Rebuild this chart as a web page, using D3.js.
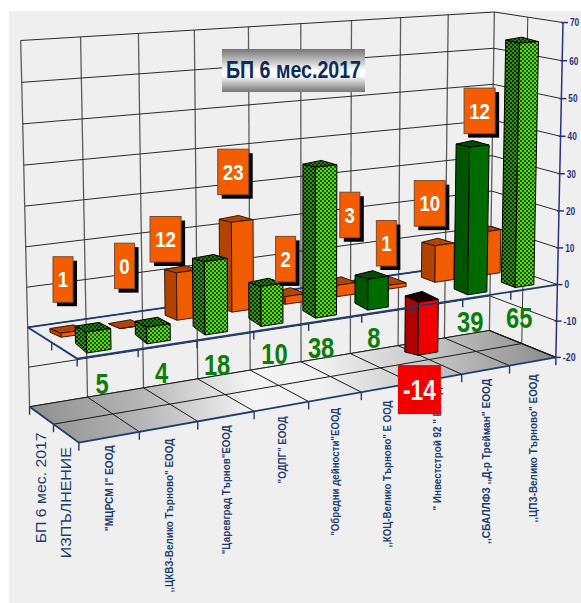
<!DOCTYPE html>
<html><head><meta charset="utf-8">
<script src="https://cdn.jsdelivr.net/npm/d3@7/dist/d3.min.js"></script>
<style>html,body{margin:0;padding:0;background:#fff}svg{display:block}text{font-family:"Liberation Sans",Arial,sans-serif}</style>
</head><body><div id="c"></div>
<script>
const categories=['"МЦРСМ I" ЕООД',',,ЦКВЗ-Велико Търново" ЕООД','"Царевград Търнов"ЕООД','"ОДПГ" ЕООД','"Обредни дейности"ЕООД',',,КОЦ-Велико Търново" Е ООД','" Инвестстрой 92 " ЕООД',',,СБАЛЛФЗ ,,Д-р Трейман" ЕООД',',,ЦПЗ-Велико Търново" ЕООД'];
const planValues=[1,0,12,23,2,3,1,10,12];
const actualValues=[5,4,18,10,38,8,-14,39,65];
const actualFill=['check','check','check','check','check','solid','red','solid','check'];
const seriesNames=['БП 6 мес. 2017','ИЗПЪЛНЕНИЕ'];
const valueTicks=[-20,-10,0,10,20,30,40,50,60,70];
const title='БП 6 мес.2017';

// layout only
const W=581,H=603;
const catLabelLength=[86,154,129,67,128,147,123,165,148];
const catLabelGap=[8,12,9,10,11,13,9,9,13];
const planLabelOffset=[[-10,-52],[-7,-61],[-22,-32],[-9,-49],[-10,-36],[3,-69],[-10,-41],[-15,-41],[-12,-120]];
const actualLabelNudge=[[0,0],[1,-2],[0,-1],[3,-3],[-3,-1],[-1,-3],[0,0],[-1,-3],[2,0]];
// calibration of the perspective: [band, value, depth] -> screen
const calib=[
[0,-20,0,79,443],[1,-20,0,140,431.7],[2,-20,0,198,421.7],[3,-20,0,253.6,411.7],[4,-20,0,308,401.7],[5,-20,0,361.7,391.7],[7,-20,0,461.7,374],[8,-20,0,509,365.7],[9,-20,0,556.7,357],
[0,-20,1,29.5,407],[1,-20,1,87.3,397.3],[3,-20,1,198,378.3],[5,-20,1,300.5,361.5],[6,-20,1,350,353],[9,-20,1,490,331],
[0,70,1,20.5,40],[4,70,1,249,27],[5,70,1,300.7,24],[9,70,1,494,12],[9,70,0,563,22],[9,60,0,562.3,61],[9,30,0,560,174],[9,10,0,558,248],
[0,0,1,28,328],[0,0,0,77,358],[9,0,0,557,285],[9,0,1,490.5,261],[0,-10,1,28.5,367],[9,-10,1,490,296],[9,-10,0,556.5,321]];

function solve(A,b){const n=b.length;A=A.map((r,i)=>[...r,b[i]]);
 for(let c=0;c<n;c++){let p=c;for(let r=c+1;r<n;r++)if(Math.abs(A[r][c])>Math.abs(A[p][c]))p=r;[A[c],A[p]]=[A[p],A[c]];
  for(let r=0;r<n;r++)if(r!==c){const f=A[r][c]/A[c][c];for(let k=c;k<=n;k++)A[r][k]-=f*A[c][k];}}
 return A.map((r,i)=>r[n]/r[i]);}
const uScale=d3.scaleBand().domain(d3.range(categories.length)).range([0,1]).paddingInner(0).paddingOuter(0);
const vScale=d3.scaleLinear().domain([-20,70]).range([0,1]);
const bw=uScale.bandwidth();
const M=(()=>{const rows=[],rhs=[];
 calib.forEach(([c,val,w,x,y])=>{const u=c*bw,v=vScale(val);
  rows.push([u,v,w,1,0,0,0,0,-x*u,-x*v,-x*w]);rhs.push(x);
  rows.push([0,0,0,0,u,v,w,1,-y*u,-y*v,-y*w]);rhs.push(y);});
 const n=11,A=d3.range(n).map(i=>d3.range(n).map(j=>d3.sum(rows,r=>r[i]*r[j]))),b=d3.range(n).map(i=>d3.sum(rows,(r,k)=>r[i]*rhs[k]));
 return solve(A,b);})();
function P(u,val,w){const v=vScale(val),d=M[8]*u+M[9]*v+M[10]*w+1;
 return [(M[0]*u+M[1]*v+M[2]*w+M[3])/d,(M[4]*u+M[5]*v+M[6]*w+M[7])/d];}
const navy='#1d3c72',axisBlue='#2d2f86';
const svg=d3.select('#c').append('svg').attr('width',W).attr('height',H);
const defs=svg.append('defs');
function checker(id,light,dark){const p=defs.append('pattern').attr('id',id).attr('patternUnits','userSpaceOnUse').attr('width',4).attr('height',4);
 p.append('rect').attr('width',4).attr('height',4).attr('fill',light);
 p.append('rect').attr('width',2).attr('height',2).attr('fill',dark);
 p.append('rect').attr('x',2).attr('y',2).attr('width',2).attr('height',2).attr('fill',dark);}
checker('cf','#78cc00','#006400');checker('cs','#468a00','#013800');checker('ct','#2b7a00','#013800');
const fg=defs.append('linearGradient').attr('id','floor').attr('gradientUnits','userSpaceOnUse').attr('x1',30).attr('y1',400).attr('x2',557).attr('y2',345);
[[0,'#8f8f8f'],[.2,'#b4b4b4'],[.42,'#f4f4f4'],[.55,'#f0f0f0'],[.75,'#c8c8c8'],[1,'#8a8a8a']].forEach(s=>fg.append('stop').attr('offset',s[0]).attr('stop-color',s[1]));
const tg=defs.append('linearGradient').attr('id','tg').attr('x1',0).attr('y1',0).attr('x2',0).attr('y2',1);
[[0,'#757575'],[.5,'#ffffff'],[.62,'#ffffff'],[1,'#757575']].forEach(s=>tg.append('stop').attr('offset',s[0]).attr('stop-color',s[1]));

svg.append('rect').attr('x',9).attr('y',11).attr('width',W-9).attr('height',H-11).attr('fill','#efefef');
const line=(a,b,col,sw)=>svg.append('line').attr('x1',a[0]).attr('y1',a[1]).attr('x2',b[0]).attr('y2',b[1]).attr('stroke',col).attr('stroke-width',sw);
const poly=(pts,fill,stroke,sw)=>svg.append('polygon').attr('points',pts.map(p=>p.join(',')).join(' ')).attr('fill',fill).attr('stroke',stroke||'none').attr('stroke-width',sw||0).attr('stroke-linejoin','round');
const N=categories.length;
// back wall and side wall verticals
d3.range(N+1).forEach(i=>line(P(i*bw,-20,1),P(i*bw,70,1),'#5c5c5c',1.3));
line(P(1,-20,.5),P(1,70,.5),'#3a3a3a',1);
valueTicks.forEach(t=>{line(P(0,t,1),P(1,t,1),'#2a2a2a',1);line(P(1,t,1),P(1,t,0),'#2a2a2a',1);});
// floor
poly([P(0,-20,0),P(1,-20,0),P(1,-20,1),P(0,-20,1)],'url(#floor)');
d3.range(N+1).forEach(i=>line(P(i*bw,-20,1),P(i*bw,-20,0),'#1a1a1a',1));
line(P(0,-20,.5),P(1,-20,.5),'#1a1a1a',1);
line(P(0,-20,1),P(1,-20,1),'#1a1a1a',1);
line(P(1,-20,1),P(1,-20,0),'#1a1a1a',1.2);
line(P(0,-20,1),P(0,-20,0),navy,1.8);
line(P(0,-20,0),P(1,-20,0),navy,1.8);
const tick=(p,col)=>line(p,[p[0],p[1]+8],col,1.4);
d3.range(N).forEach(i=>tick(P(i*bw,-20,0),navy));
tick(P(0,-20,.5),navy);tick(P(0,-20,1),navy);
// zero plane back edges
line(P(0,0,1),P(1,0,1),navy,1.8);
line(P(0,0,1),P(0,0,0),navy,1.8);
tick(P(0,0,.5),navy);

// the reference's boxes flatten towards the top: their side recedes less with height
const skewX=d3.scaleLinear().domain([0,1]).range([-11,-14]);
function box(i,val,w0,base,fills,stroke){
 const u=i*bw+.24*bw, uw=.40*bw, t=(i+.5)/N;
 const lo=Math.min(0,val),hi=Math.max(0,val);
 const fl=v=>P(u,v,w0),fr=v=>P(u+uw,v,w0);
 const dy=v=>3+(base(t)-3)*Math.exp(-Math.abs(v)/6);
 const bl=v=>{const p=fl(v);return [p[0]+skewX(t),p[1]-dy(v)];};
 const br=v=>{const p=fr(v);return [p[0]+skewX(t)-6*Math.min(t,.5),p[1]-dy(v)-3*Math.min(t,.5)];};
 poly([fl(lo),fl(hi),bl(hi),bl(lo)],fills[1],stroke,1);
 poly([fl(hi),fr(hi),br(hi),bl(hi)],fills[2],stroke,1);
 poly([fl(lo),fr(lo),fr(hi),fl(hi)],fills[0],stroke,1);
 return {top:[(fl(hi)[0]+fr(hi)[0])/2,(fl(hi)[1]+fr(hi)[1])/2],bottom:[(fl(lo)[0]+fr(lo)[0])/2,(fl(lo)[1]+fr(lo)[1])/2]};
}
const orange=['#f25c00','#b24300','#b24300'];
const styles={check:['url(#cf)','url(#cs)','url(#ct)'],solid:['#006c00','#005500','#004c00'],red:['#f00000','#b00000','#1a0000']};
const planTop=planValues.map((d,i)=>box(i,d,.6,()=>5,orange,'#3a1800').top);
let redBottom=null;
const greenBase=d3.scaleLinear().domain([0,1]).range([10,5]);
actualValues.forEach((d,i)=>{const b=box(i,d,.1,greenBase,styles[actualFill[i]],'#000');if(d<0)redBottom=b.bottom;});
// front edge of zero plane, above the bars
line(P(0,0,0),P(1,0,0),navy,1.8);
d3.range(N).forEach(i=>tick(P(i*bw,0,0),navy));
// value axis
line(P(1,-20,0),P(1,70,0),axisBlue,1.5);
{const e=P(1,-20,0);line(e,[e[0],e[1]+8],axisBlue,1.5);}
valueTicks.forEach(t=>{const p=P(1,t,0);line([p[0]-2,p[1]],[p[0]+5,p[1]],axisBlue,1.5);
 const s=String(t);
 svg.append('text').attr('x',p[0]+7).attr('y',p[1]+3.8).attr('font-size',10.5).attr('font-weight','bold').attr('fill',axisBlue).attr('textLength',s.length*4.6-(t<0?1:0)).attr('lengthAdjust','spacingAndGlyphs').text(s);});
// category labels
const vtext=(x,y,s,size,weight,len)=>svg.append('text').attr('transform',`translate(${x},${y}) rotate(-90)`).attr('text-anchor','end').attr('font-size',size).attr('font-weight',weight).attr('fill',navy).attr('textLength',len).attr('lengthAdjust','spacingAndGlyphs').text(s);
categories.forEach((c,i)=>{const p=P(uScale(i)+bw/2,-20,0);vtext(p[0]+4,p[1]+catLabelGap[i],c,10.5,'bold',catLabelLength[i]);});
{const a=P(0,-20,.75),b=P(0,-20,.25);
 vtext(a[0]+5,a[1]+17,seriesNames[0],15,'normal',111);
 vtext(b[0]+5,b[1]+14,seriesNames[1],15,'normal',111);}
// actual labels
actualValues.forEach((d,i)=>{if(d<0)return;const s=String(d),t=(i+.5)/N,p=P(uScale(i)+bw/2,-6.5,.11+.14*t),o=actualLabelNudge[i];
 svg.append('text').attr('x',p[0]+o[0]).attr('y',p[1]+17+5.5*t+o[1]).attr('text-anchor','middle').attr('font-size',30).attr('font-weight','bold').attr('fill','#0b7d0b').attr('textLength',s.length*13.2).attr('lengthAdjust','spacingAndGlyphs').text(s);});
// plan labels
planValues.forEach((d,i)=>{const s=String(d),w=s.length>1?31:20,h=45.5,a=planTop[i],o=planLabelOffset[i],cx=a[0]+o[0],cy=a[1]+o[1];
 svg.append('rect').attr('x',cx-w/2+4).attr('y',cy-h/2+4).attr('width',w).attr('height',h).attr('fill','#000');
 svg.append('rect').attr('x',cx-w/2).attr('y',cy-h/2).attr('width',w).attr('height',h).attr('fill','#f35d00').attr('stroke','#7a4a2a').attr('stroke-width',1);
 svg.append('text').attr('x',cx).attr('y',cy+8).attr('text-anchor','middle').attr('font-size',22).attr('font-weight','bold').attr('fill','#fff').attr('textLength',s.length*10.4).attr('lengthAdjust','spacingAndGlyphs').text(s);});
// red label
{const v=actualValues.find(d=>d<0),cx=redBottom[0]-8.5,cy=redBottom[1]+36;
 svg.append('rect').attr('x',cx-21.5).attr('y',cy-24.5).attr('width',43).attr('height',49).attr('fill','#f20000');
 svg.append('text').attr('x',cx).attr('y',cy+10).attr('text-anchor','middle').attr('font-size',29).attr('font-weight','bold').attr('fill','#f4f4f4').attr('textLength',33).attr('lengthAdjust','spacingAndGlyphs').text(String(v));}
// title
svg.append('rect').attr('x',222).attr('y',49).attr('width',143).attr('height',43).attr('fill','url(#tg)');
svg.append('text').attr('x',293.5).attr('y',78).attr('text-anchor','middle').attr('font-size',24).attr('font-weight','bold').attr('fill','#0b2a5e').attr('textLength',135).attr('lengthAdjust','spacingAndGlyphs').text(title);
</script></body></html>
